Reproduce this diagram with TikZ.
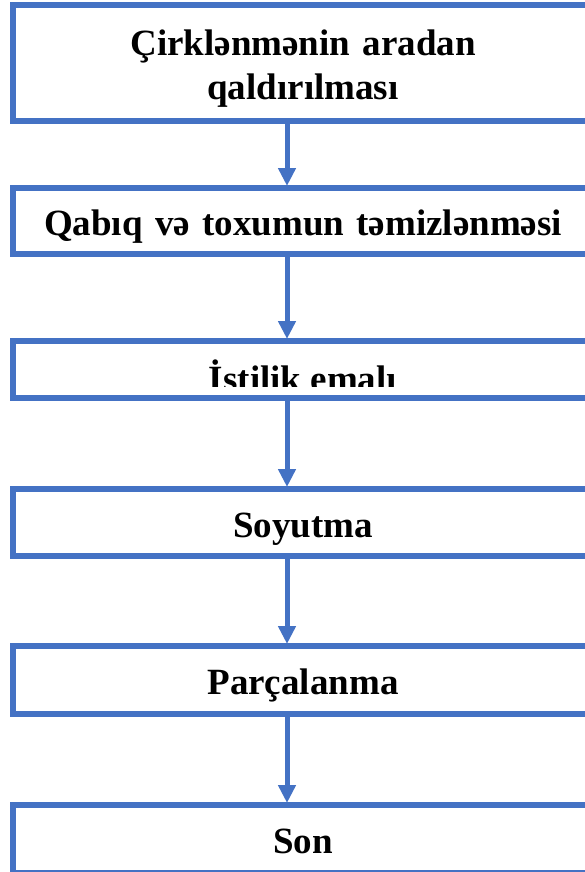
\documentclass[tikz,border=0pt]{standalone}
\usepackage{fontspec}
\setmainfont{Liberation Serif}
\usepackage{tikz}
\usetikzlibrary{positioning,arrows.meta}
\definecolor{FlowBlue}{HTML}{4472C4}

\begin{document}
\begin{tikzpicture}[x=1pt,y=1pt,>={Triangle[width=17pt,length=18pt]},node distance=67pt]
  \tikzstyle{stepbox}=[draw=FlowBlue,line width=6pt,fill=white,outer sep=0pt,
    minimum width=580pt,text width=560pt,align=center,text height=37pt,
    font=\fontsize{37}{44}\selectfont\bfseries]
  \tikzstyle{flow}=[->,line width=5pt,color=FlowBlue,shorten >=2pt]
  \clip (0,0) rectangle (585,-872);
  \coordinate (axis) at (287,0);
  \node[stepbox,minimum height=116pt] (clean) at (303,-63) {Çirklənmənin aradan\\qaldırılması};
  \node[stepbox,minimum height=66pt,below=67pt of clean] (peel) {Qabıq və toxumun təmizlənməsi};
  \node[stepbox,minimum height=57pt,below=87pt of peel] (heat) {};
  \node[stepbox,minimum height=67pt,below=91pt of heat] (cool) {Soyutma};
  \node[stepbox,minimum height=68pt,below=90pt of cool] (crush) {Parçalanma};
  \node[stepbox,minimum height=68pt,text depth=8pt,below=91pt of crush] (done) {Son};
  % text of the third box is cut off at the bottom
  \begin{scope}
    \clip ([xshift=3pt,yshift=-3pt]heat.north west) rectangle ([yshift=12pt]heat.south east);
    \node[font=\fontsize{37}{44}\selectfont\bfseries,anchor=base] (heattext)
      at ([yshift=7pt]heat.south) {İstilik emalı};
  \end{scope}
  \draw[flow] (clean.south -| axis)--(peel.north -| axis);
  \draw[flow] (peel.south -| axis)--(heat.north -| axis);
  \draw[flow] (heat.south -| axis)--(cool.north -| axis);
  \draw[flow] (cool.south -| axis)--(crush.north -| axis);
  \draw[flow] (crush.south -| axis)--(done.north -| axis);
\end{tikzpicture}
\end{document}
